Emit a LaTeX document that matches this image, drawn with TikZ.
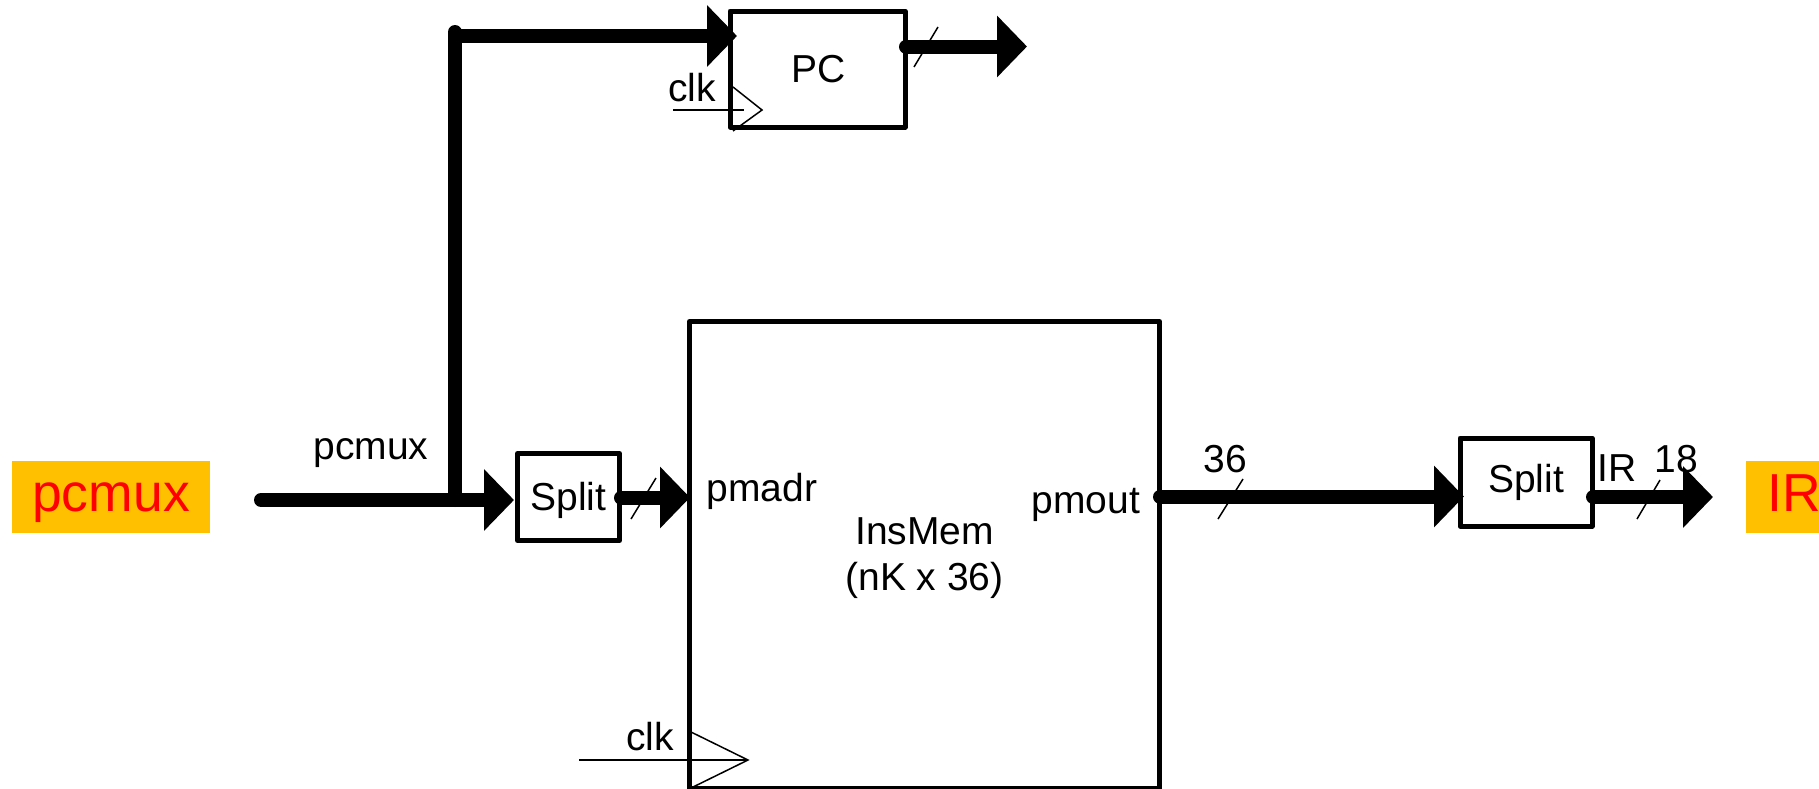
\documentclass[tikz,border=0pt]{standalone}
\usepackage{fontspec}
\setmainfont{Liberation Sans}
\usetikzlibrary{arrows.meta}
\definecolor{tagfill}{HTML}{FFC000}
\tikzset{
  blockbox/.style={draw=black,line width=5pt,fill=white,inner sep=0pt,font=\fontsize{39}{46}\selectfont,align=center,line join=round},
  tagbox/.style={fill=tagfill,inner sep=0pt,text=red,font=\fontsize{53.5}{60}\selectfont},
  lab/.style={inner sep=0pt,font=\fontsize{39}{46}\selectfont,align=center},
  bus/.style={line width=14pt,line cap=round,line join=miter},
  busarrow/.style={bus,-{Triangle[length=30pt 0 0,width=60pt 0 0]}},
  thin line/.style={line width=1.5pt,draw=black},
  slash/.style={line width=1.5pt,draw=black},
}
\begin{document}
\begin{tikzpicture}[x=1pt,y=-1pt]
\useasboundingbox (0,0) rectangle (1819,788);
\clip (0,0) rectangle (1819,788);
% blocks
\node[blockbox,minimum width=470pt,minimum height=467pt] (mem) at (924.5,555) {};
\node[blockbox,minimum width=175pt,minimum height=116pt] (pc) at (817.5,69) {\hspace*{2pt}PC};
\node[blockbox,minimum width=102pt,minimum height=87pt] (s1) at (568.5,497) {\rule{0pt}{35pt}Split};
\node[blockbox,minimum width=132pt,minimum height=88pt] (s2) at (1526,482) {\rule{0pt}{30pt}Split};
\node[tagbox,minimum width=198pt,minimum height=72pt] (tagin) at (111,497) {\rule{0pt}{40pt}pcmux};
\fill[tagfill] (1746,461) rectangle (1819,533);
\node[tagbox,anchor=west] (tagout) at (1767,493) {IR};
% coordinates
\coordinate (start) at (261,500);
\coordinate (j) at (455,500);
\coordinate (topv) at (455,32);
\coordinate (top) at (455,36);
\coordinate (pcin) at (737,36);
\coordinate (pcout) at (906,46.5);
\coordinate (pcend) at (1027,46.5);
\coordinate (s1in) at (514,500);
\coordinate (s1out) at (621,497.5);
\coordinate (memin) at (690,497.5);
\coordinate (memout) at (1160,496.5);
\coordinate (s2in) at (1464,496.5);
\coordinate (s2out) at (1593,497);
\coordinate (irend) at (1713,497);
% buses
\draw[busarrow] (start) -- (s1in);
\draw[bus] (j) -- (topv);
\draw[busarrow] (top) -- (pcin);
\draw[busarrow] (pcout) -- (pcend);
\draw[busarrow] (s1out) -- (memin);
\draw[busarrow] (memout) -- (s2in);
\draw[busarrow] (s2out) -- (irend);
% bus slashes
\coordinate (a1) at (938,27); \coordinate (a2) at (914,67);
\draw[slash] (a1) -- (a2);
\coordinate (b1) at (656,478); \coordinate (b2) at (631,519);
\draw[slash] (b1) -- (b2);
\coordinate (c1) at (1243,479); \coordinate (c2) at (1218,519);
\draw[slash] (c1) -- (c2);
\coordinate (d1) at (1660,480); \coordinate (d2) at (1637,519);
\draw[slash] (d1) -- (d2);
% clocks
\coordinate (pcclk) at (673,110); \coordinate (pctip) at (762,110);
\coordinate (pct1) at (733,87); \coordinate (pct2) at (733,131);
\draw[thin line] (pcclk) -- (744,110);
\draw[thin line] (pct1) -- (pctip) -- (pct2);
\coordinate (mclk) at (579,760); \coordinate (mtip) at (748,760);
\coordinate (mt1) at (691,732); \coordinate (mt2) at (691,788);
\draw[thin line] (mclk) -- (mtip);
\draw[thin line] (mt1) -- (mtip) -- (mt2);
% labels
\node[lab] (l1) at (371,453) {pcmux};
\node[lab] (l2) at (692,88) {clk};
\node[lab] (l3) at (650,737) {clk};
\node[lab] (l4) at (762,491) {pmadr};
\node[lab] (l5) at (1086,505) {pmout};
\node[lab] (l6) at (924.5,558) {InsMem\\(nK x 36)};
\node[lab] (l7) at (1225,459) {36};
\node[lab] (l8) at (1617,468) {IR};
\node[lab] (l9) at (1676,459) {18};
\end{tikzpicture}
\end{document}
